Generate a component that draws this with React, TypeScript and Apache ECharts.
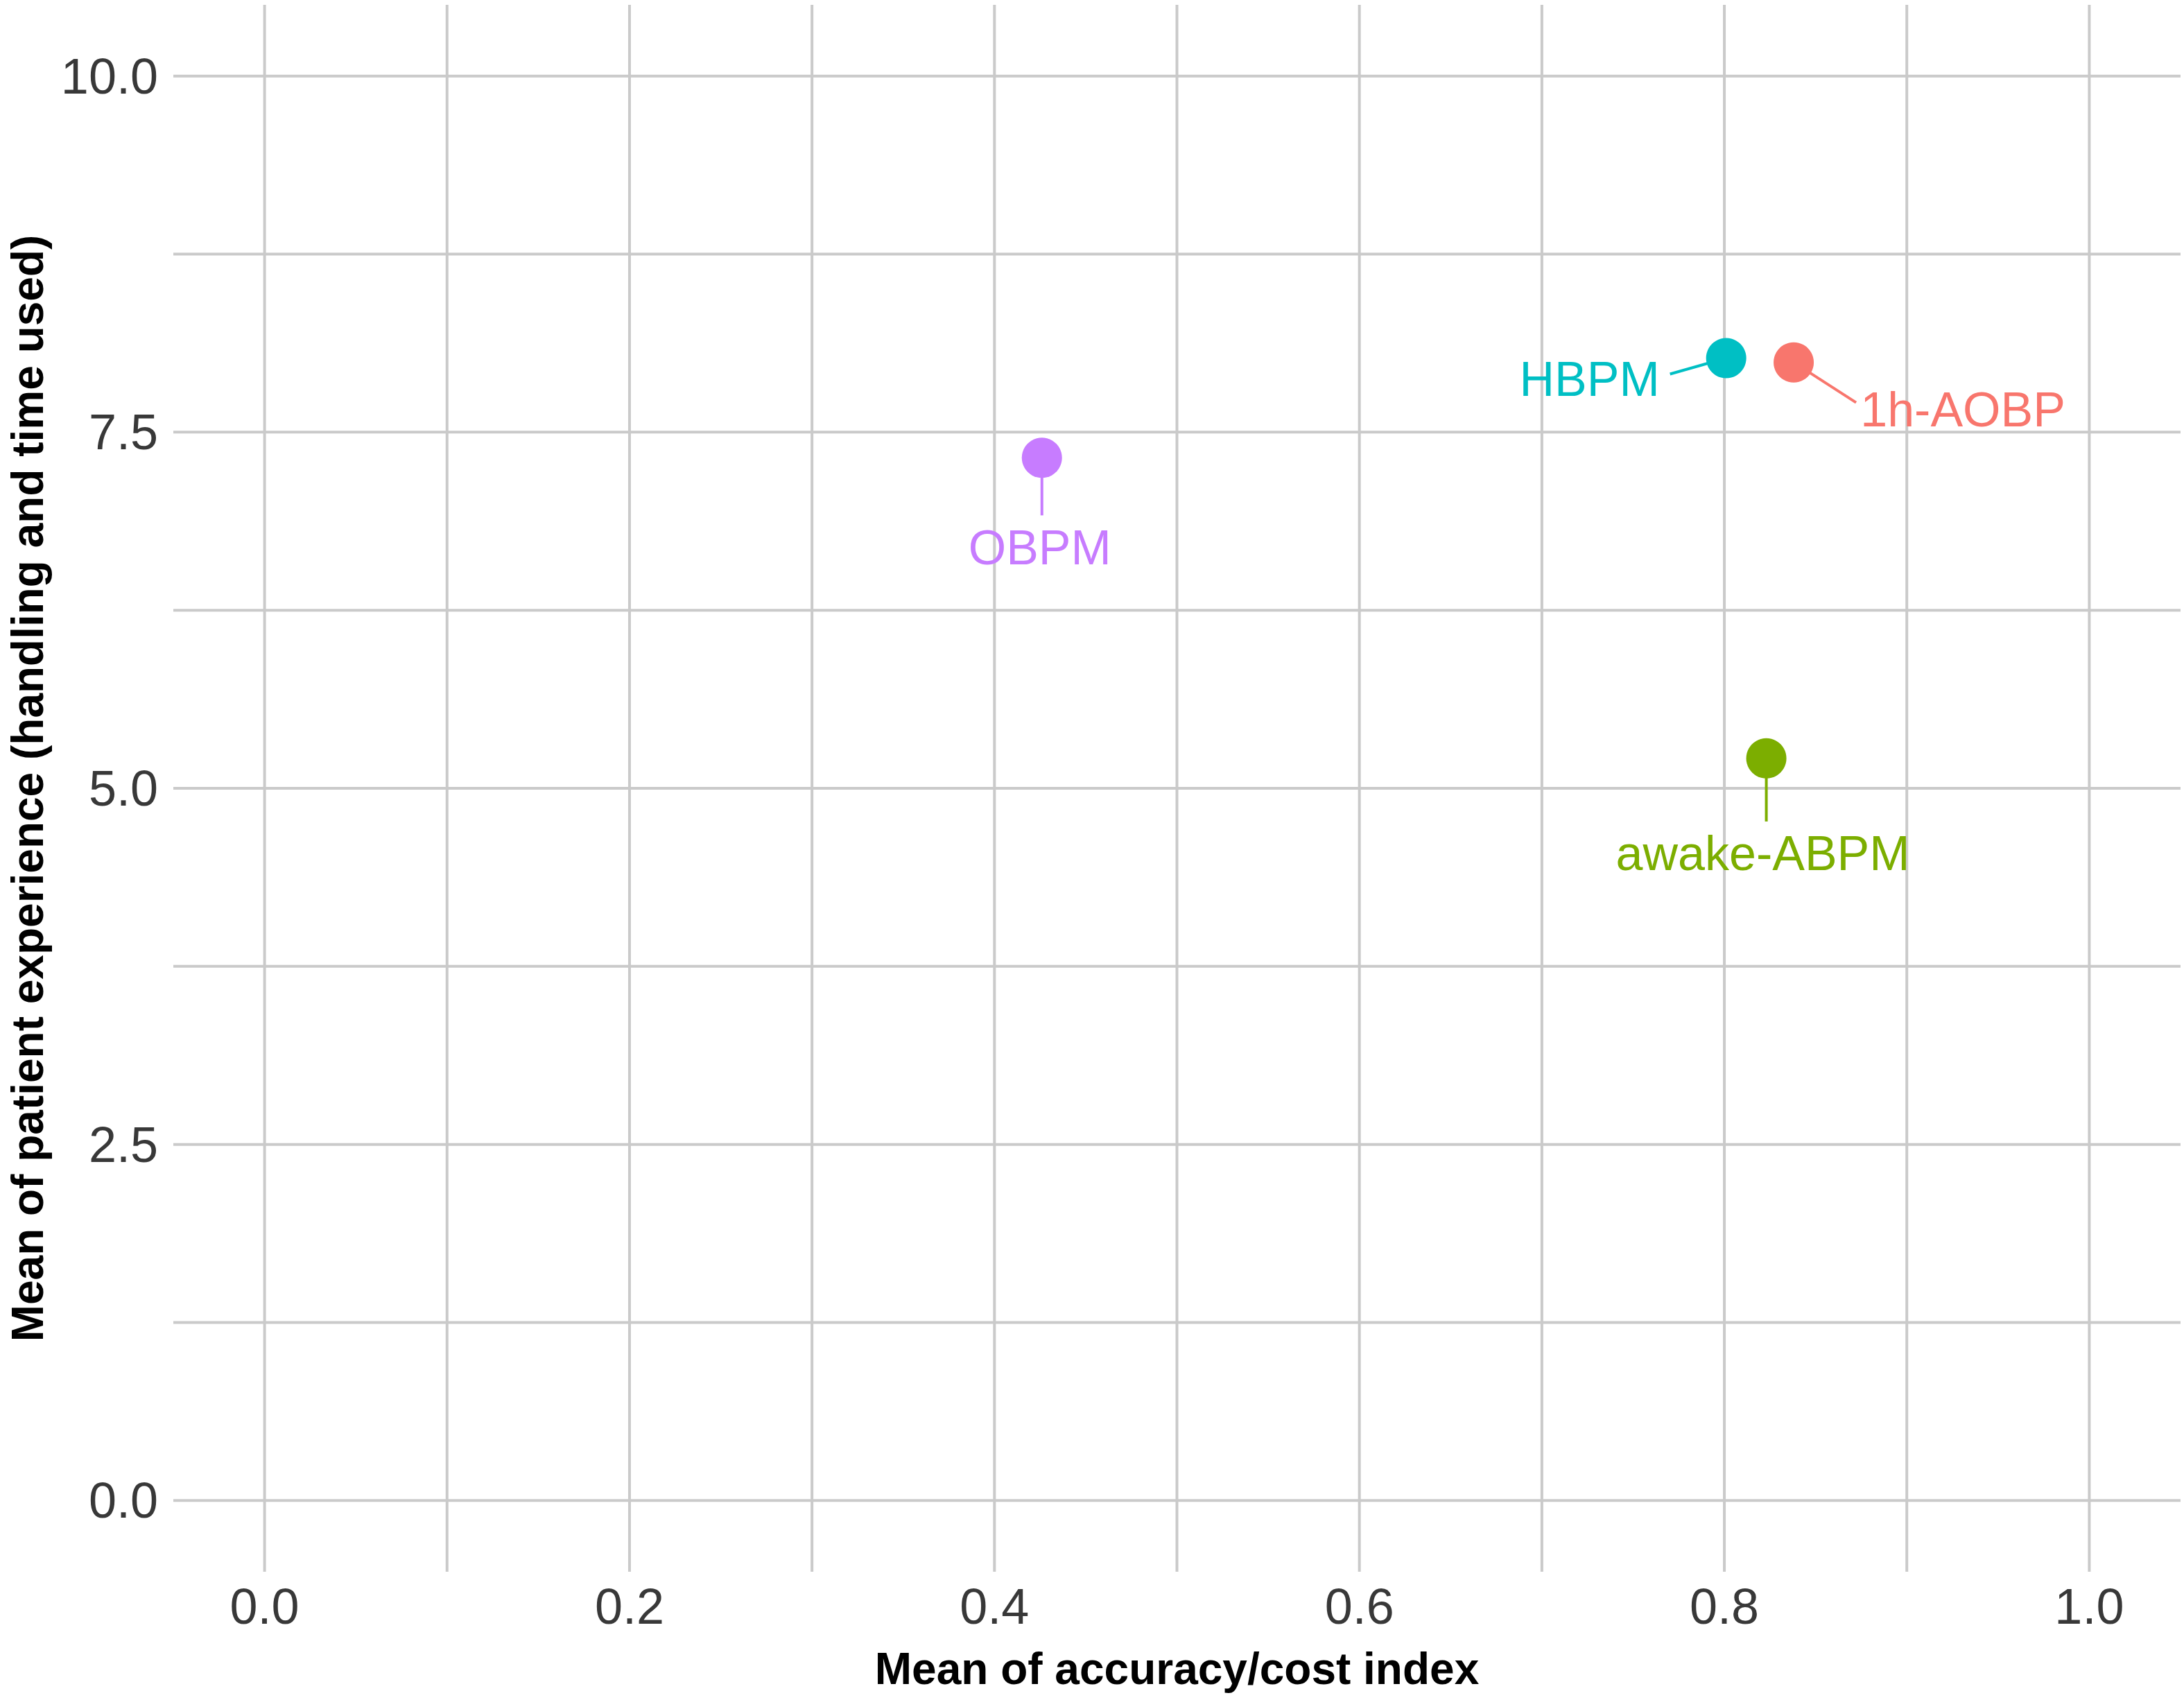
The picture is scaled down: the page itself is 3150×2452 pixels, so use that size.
import React, { useEffect, useRef } from "react";
import * as echarts from "echarts";

const methods = ["1h-AOBP", "awake-ABPM", "HBPM", "OBPM"];
const accuracyCostIndex = [0.838, 0.823, 0.801, 0.426];
const patientExperience = [7.99, 5.21, 8.02, 7.32];
const pointColors = ["#F8766D", "#7CAE00", "#00BFC4", "#C77CFF"];

const xGridValues = [0, 0.1, 0.2, 0.3, 0.4, 0.5, 0.6, 0.7, 0.8, 0.9, 1.0];
const yGridValues = [0, 1.25, 2.5, 3.75, 5, 6.25, 7.5, 8.75, 10];
const xTickLabels = [0, 0.2, 0.4, 0.6, 0.8, 1.0];
const yTickLabels = [0, 2.5, 5, 7.5, 10];

// repel label placement (pixel offsets from the point: label centre and segment end)
const labelOffsets = [
  [244, 68],
  [-5, 137],
  [-197, 30],
  [-3, 130],
];
const segmentEnds = [
  [90, 58],
  [0, 91],
  [-81, 23],
  [0, 83],
];

const FONT = "'Liberation Sans', Arial, Helvetica, sans-serif";
const GRID_COLOR = "#CACACA";
const TICK_COLOR = "#383838";

function isTick(v: number, list: number[]) {
  return list.some((t) => Math.abs(t - v) < 1e-6);
}

export default function App() {
  const ref = useRef<HTMLDivElement>(null);
  useEffect(() => {
    if (!ref.current) return;
    const chart = echarts.init(ref.current, undefined, { renderer: "svg" });
    const option: any = {
      animation: false,
      backgroundColor: "#FFFFFF",
      grid: { left: 246, right: 5, top: 7, bottom: 185, containLabel: false },
      xAxis: {
        type: "value",
        min: -0.05,
        max: 1.05,
        interval: 0.05,
        name: "Mean of accuracy/cost index",
        nameLocation: "middle",
        nameGap: 108,
        nameTextStyle: { fontFamily: FONT, fontSize: 64, fontWeight: "bold", color: "#000000" },
        axisLine: { show: false },
        axisTick: { show: false },
        splitLine: { show: false },
        axisLabel: {
          margin: 14,
          fontFamily: FONT,
          fontSize: 72,
          color: TICK_COLOR,
          formatter: (v: number) => (isTick(v, xTickLabels) ? v.toFixed(1) : ""),
        },
      },
      yAxis: {
        type: "value",
        min: -0.5,
        max: 10.5,
        interval: 0.25,
        name: "Mean of patient experience (handling and time used)",
        nameLocation: "middle",
        nameRotate: 90,
        nameGap: 178,
        nameTextStyle: { fontFamily: FONT, fontSize: 64, fontWeight: "bold", color: "#000000" },
        axisLine: { show: false },
        axisTick: { show: false },
        splitLine: { show: false },
        axisLabel: {
          margin: 22,
          fontFamily: FONT,
          fontSize: 72,
          color: TICK_COLOR,
          formatter: (v: number) => (isTick(v, yTickLabels) ? v.toFixed(1) : ""),
        },
      },
      series: [
        {
          type: "custom",
          z: 1,
          silent: true,
          clip: false,
          data: xGridValues.map((v) => [v, 0]),
          encode: { x: 0, y: 1 },
          renderItem: (params: any, api: any) => {
            const cs = params.coordSys;
            const p = api.coord([api.value(0), 0]);
            return {
              type: "line",
              shape: { x1: p[0], y1: cs.y, x2: p[0], y2: cs.y + cs.height },
              style: { stroke: GRID_COLOR, lineWidth: 4 },
            };
          },
        },
        {
          type: "custom",
          z: 1,
          silent: true,
          clip: false,
          data: yGridValues.map((v) => [0, v]),
          encode: { x: 0, y: 1 },
          renderItem: (params: any, api: any) => {
            const cs = params.coordSys;
            const p = api.coord([0, api.value(1)]);
            return {
              type: "line",
              shape: { x1: cs.x, y1: p[1], x2: cs.x + cs.width, y2: p[1] },
              style: { stroke: GRID_COLOR, lineWidth: 4 },
            };
          },
        },
        {
          type: "custom",
          z: 5,
          clip: false,
          data: methods.map((m, i) => [accuracyCostIndex[i], patientExperience[i], i]),
          encode: { x: 0, y: 1 },
          renderItem: (params: any, api: any) => {
            const i = params.dataIndex;
            const c = api.coord([api.value(0), api.value(1)]);
            const col = pointColors[i];
            const lo = labelOffsets[i];
            const se = segmentEnds[i];
            return {
              type: "group",
              children: [
                {
                  type: "line",
                  shape: { x1: c[0], y1: c[1], x2: c[0] + se[0], y2: c[1] + se[1] },
                  style: { stroke: col, lineWidth: 4 },
                },
                {
                  type: "circle",
                  shape: { cx: c[0], cy: c[1], r: 29 },
                  style: { fill: col },
                },
                {
                  type: "text",
                  x: c[0] + lo[0],
                  y: c[1] + lo[1],
                  style: {
                    text: methods[i],
                    fill: col,
                    fontFamily: FONT,
                    fontSize: 70,
                    textAlign: "center",
                    textVerticalAlign: "middle",
                    verticalAlign: "middle",
                  },
                },
              ],
            };
          },
        },
      ],
    };
    chart.setOption(option);
    return () => chart.dispose();
  }, []);
  return (
    <div
      ref={ref}
      style={{ position: "absolute", left: 0, top: 0, width: 3150, height: 2452, background: "#fff" }}
    />
  );
}
